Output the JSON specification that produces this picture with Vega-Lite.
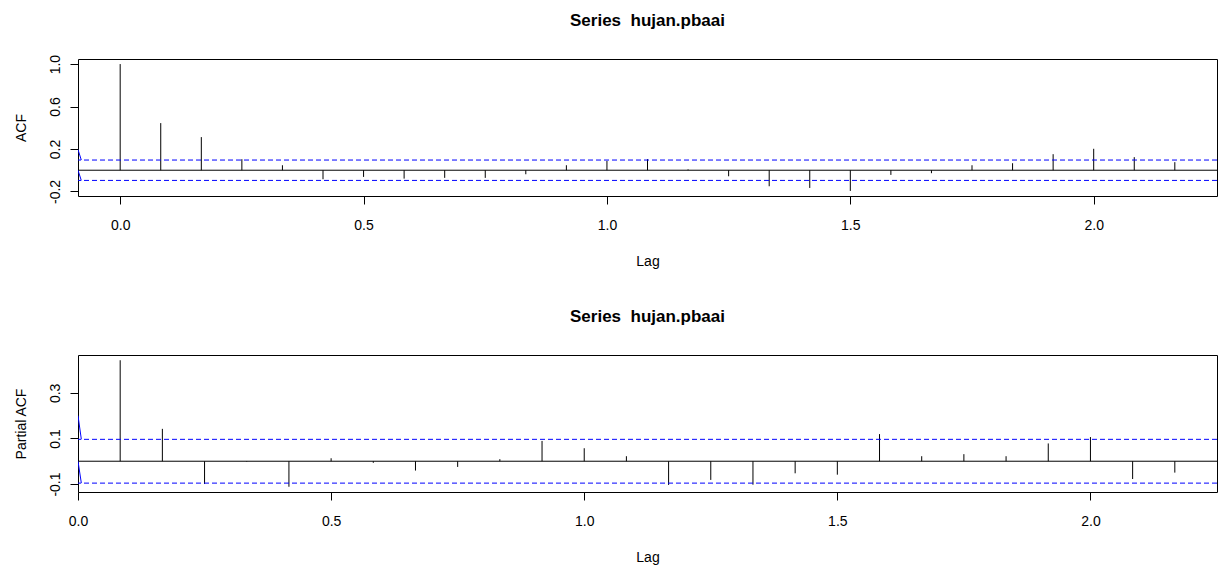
{
  "$schema": "https://vega.github.io/schema/vega-lite/v6.json",
  "background": "white",
  "padding": {"left": 13, "top": 11, "right": 0, "bottom": 0},
  "spacing": 38,
  "config": {
    "font": "Liberation Sans",
    "view": {"stroke": "black", "strokeWidth": 1},
    "axis": {
      "grid": false, "domain": false, "tickColor": "black", "tickSize": 8, "tickWidth": 1,
      "labelColor": "black", "titleColor": "black", "labelFontSize": 14, "titleFontSize": 14,
      "titleFontWeight": "normal", "labelFont": "Liberation Sans", "titleFont": "Liberation Sans",
      "labelOverlap": false, "labelFlush": false
    },
    "title": {"font": "Liberation Sans", "fontSize": 17, "fontWeight": "bold", "color": "black", "anchor": "middle", "frame": "group", "baseline": "alphabetic"}
  },
  "datasets": {
    "acf": [
      {"lag": 0.0, "acf": 1.0},
      {"lag": 0.08333, "acf": 0.444},
      {"lag": 0.16667, "acf": 0.312},
      {"lag": 0.25, "acf": 0.104},
      {"lag": 0.33333, "acf": 0.047},
      {"lag": 0.41667, "acf": -0.085},
      {"lag": 0.5, "acf": -0.063},
      {"lag": 0.58333, "acf": -0.079},
      {"lag": 0.66667, "acf": -0.072},
      {"lag": 0.75, "acf": -0.072},
      {"lag": 0.83333, "acf": -0.038},
      {"lag": 0.91667, "acf": 0.047},
      {"lag": 1.0, "acf": 0.088},
      {"lag": 1.08333, "acf": 0.104},
      {"lag": 1.16667, "acf": 0.008},
      {"lag": 1.25, "acf": -0.057},
      {"lag": 1.33333, "acf": -0.151},
      {"lag": 1.41667, "acf": -0.167},
      {"lag": 1.5, "acf": -0.195},
      {"lag": 1.58333, "acf": -0.044},
      {"lag": 1.66667, "acf": -0.028},
      {"lag": 1.75, "acf": 0.047},
      {"lag": 1.83333, "acf": 0.066},
      {"lag": 1.91667, "acf": 0.151},
      {"lag": 2.0, "acf": 0.202},
      {"lag": 2.08333, "acf": 0.123},
      {"lag": 2.16667, "acf": 0.076}
    ],
    "pacf": [
      {"lag": 0.08333, "acf": 0.443},
      {"lag": 0.16667, "acf": 0.142},
      {"lag": 0.25, "acf": -0.1},
      {"lag": 0.33333, "acf": -0.002},
      {"lag": 0.41667, "acf": -0.112},
      {"lag": 0.5, "acf": 0.013},
      {"lag": 0.58333, "acf": -0.007},
      {"lag": 0.66667, "acf": -0.041},
      {"lag": 0.75, "acf": -0.025},
      {"lag": 0.83333, "acf": 0.009},
      {"lag": 0.91667, "acf": 0.089},
      {"lag": 1.0, "acf": 0.057},
      {"lag": 1.08333, "acf": 0.022},
      {"lag": 1.16667, "acf": -0.104},
      {"lag": 1.25, "acf": -0.082},
      {"lag": 1.33333, "acf": -0.103},
      {"lag": 1.41667, "acf": -0.053},
      {"lag": 1.5, "acf": -0.059},
      {"lag": 1.58333, "acf": 0.119},
      {"lag": 1.66667, "acf": 0.022},
      {"lag": 1.75, "acf": 0.031},
      {"lag": 1.83333, "acf": 0.022},
      {"lag": 1.91667, "acf": 0.078},
      {"lag": 2.0, "acf": 0.106},
      {"lag": 2.08333, "acf": -0.078},
      {"lag": 2.16667, "acf": -0.05}
    ],
    "ci": [{"acf": 0.096}, {"acf": -0.096}],
    "acfEdge": [
      {"seg": "upper", "lag": -0.08667, "acf": 0.195},
      {"seg": "upper", "lag": -0.0799, "acf": 0.096},
      {"seg": "lower", "lag": -0.08667, "acf": 0.0},
      {"seg": "lower", "lag": -0.0799, "acf": -0.096}
    ],
    "pacfEdge": [
      {"seg": "upper", "lag": 0.0, "acf": 0.2},
      {"seg": "upper", "lag": 0.0066, "acf": 0.096},
      {"seg": "lower", "lag": 0.0, "acf": 0.0},
      {"seg": "lower", "lag": 0.0066, "acf": -0.096}
    ]
  },
  "vconcat": [
    {
      "width": 1139,
      "height": 137,
      "title": {"text": "Series\u00a0 hujan.pbaai", "offset": 24},
      "layer": [
        {
          "data": {"name": "acf"},
          "mark": {"type": "rule", "color": "black", "strokeWidth": 1},
          "encoding": {
            "x": {
              "field": "lag", "type": "quantitative",
              "scale": {"domain": [-0.08667, 2.25333], "nice": false, "zero": false},
              "axis": {
                "title": "Lag", "values": [0, 0.5, 1, 1.5, 2], "format": ".1f",
                "labelBaseline": "alphabetic", "labelPadding": 25,
                "titleY": 69, "titleBaseline": "alphabetic"
              }
            },
            "y": {
              "field": "acf", "type": "quantitative",
              "scale": {"domain": [-0.2428, 1.0478], "nice": false, "zero": false},
              "axis": {
                "title": "ACF", "values": [-0.2, 0, 0.2, 0.4, 0.6, 0.8, 1.0],
                "labelAngle": -90, "labelAlign": "center", "labelBaseline": "alphabetic", "labelPadding": 11,
                "labelExpr": "abs(datum.value + 0.2) < 0.01 || abs(datum.value - 0.2) < 0.01 || abs(datum.value - 0.6) < 0.01 || abs(datum.value - 1) < 0.01 ? replace(format(datum.value, '.1f'), '\u2212', '-') : ''",
                "titleX": -53, "titleBaseline": "alphabetic"
              }
            },
            "y2": {"datum": 0}
          }
        },
        {
          "data": {"values": [{"acf": 0}]},
          "mark": {"type": "rule", "color": "black", "strokeWidth": 1},
          "encoding": {"y": {"field": "acf", "type": "quantitative"}}
        },
        {
          "data": {"name": "ci"},
          "mark": {"type": "rule", "color": "#0000ff", "strokeWidth": 1, "strokeDash": [5, 3]},
          "encoding": {"y": {"field": "acf", "type": "quantitative"}}
        },
        {
          "data": {"name": "acfEdge"},
          "mark": {"type": "line", "color": "#0000ff", "strokeWidth": 1, "clip": true},
          "encoding": {
            "x": {"field": "lag", "type": "quantitative"},
            "y": {"field": "acf", "type": "quantitative"},
            "detail": {"field": "seg"}
          }
        }
      ]
    },
    {
      "width": 1139,
      "height": 137,
      "title": {"text": "Series\u00a0 hujan.pbaai", "offset": 29},
      "layer": [
        {
          "data": {"name": "pacf"},
          "mark": {"type": "rule", "color": "black", "strokeWidth": 1},
          "encoding": {
            "x": {
              "field": "lag", "type": "quantitative",
              "scale": {"domain": [0, 2.25], "nice": false, "zero": false},
              "axis": {
                "title": "Lag", "values": [0, 0.5, 1, 1.5, 2], "format": ".1f",
                "labelBaseline": "alphabetic", "labelPadding": 25,
                "titleY": 69, "titleBaseline": "alphabetic"
              }
            },
            "y": {
              "field": "acf", "type": "quantitative",
              "scale": {"domain": [-0.135, 0.466], "nice": false, "zero": false},
              "axis": {
                "title": "Partial ACF", "values": [-0.1, 0, 0.1, 0.2, 0.3, 0.4],
                "labelAngle": -90, "labelAlign": "center", "labelBaseline": "alphabetic", "labelPadding": 11,
                "labelExpr": "abs(datum.value + 0.1) < 0.01 || abs(datum.value - 0.1) < 0.01 || abs(datum.value - 0.3) < 0.01 ? replace(format(datum.value, '.1f'), '\u2212', '-') : ''",
                "titleX": -53, "titleBaseline": "alphabetic"
              }
            },
            "y2": {"datum": 0}
          }
        },
        {
          "data": {"values": [{"acf": 0}]},
          "mark": {"type": "rule", "color": "black", "strokeWidth": 1},
          "encoding": {"y": {"field": "acf", "type": "quantitative"}}
        },
        {
          "data": {"name": "ci"},
          "mark": {"type": "rule", "color": "#0000ff", "strokeWidth": 1, "strokeDash": [5, 3]},
          "encoding": {"y": {"field": "acf", "type": "quantitative"}}
        },
        {
          "data": {"name": "pacfEdge"},
          "mark": {"type": "line", "color": "#0000ff", "strokeWidth": 1, "clip": true},
          "encoding": {
            "x": {"field": "lag", "type": "quantitative"},
            "y": {"field": "acf", "type": "quantitative"},
            "detail": {"field": "seg"}
          }
        }
      ]
    }
  ]
}
